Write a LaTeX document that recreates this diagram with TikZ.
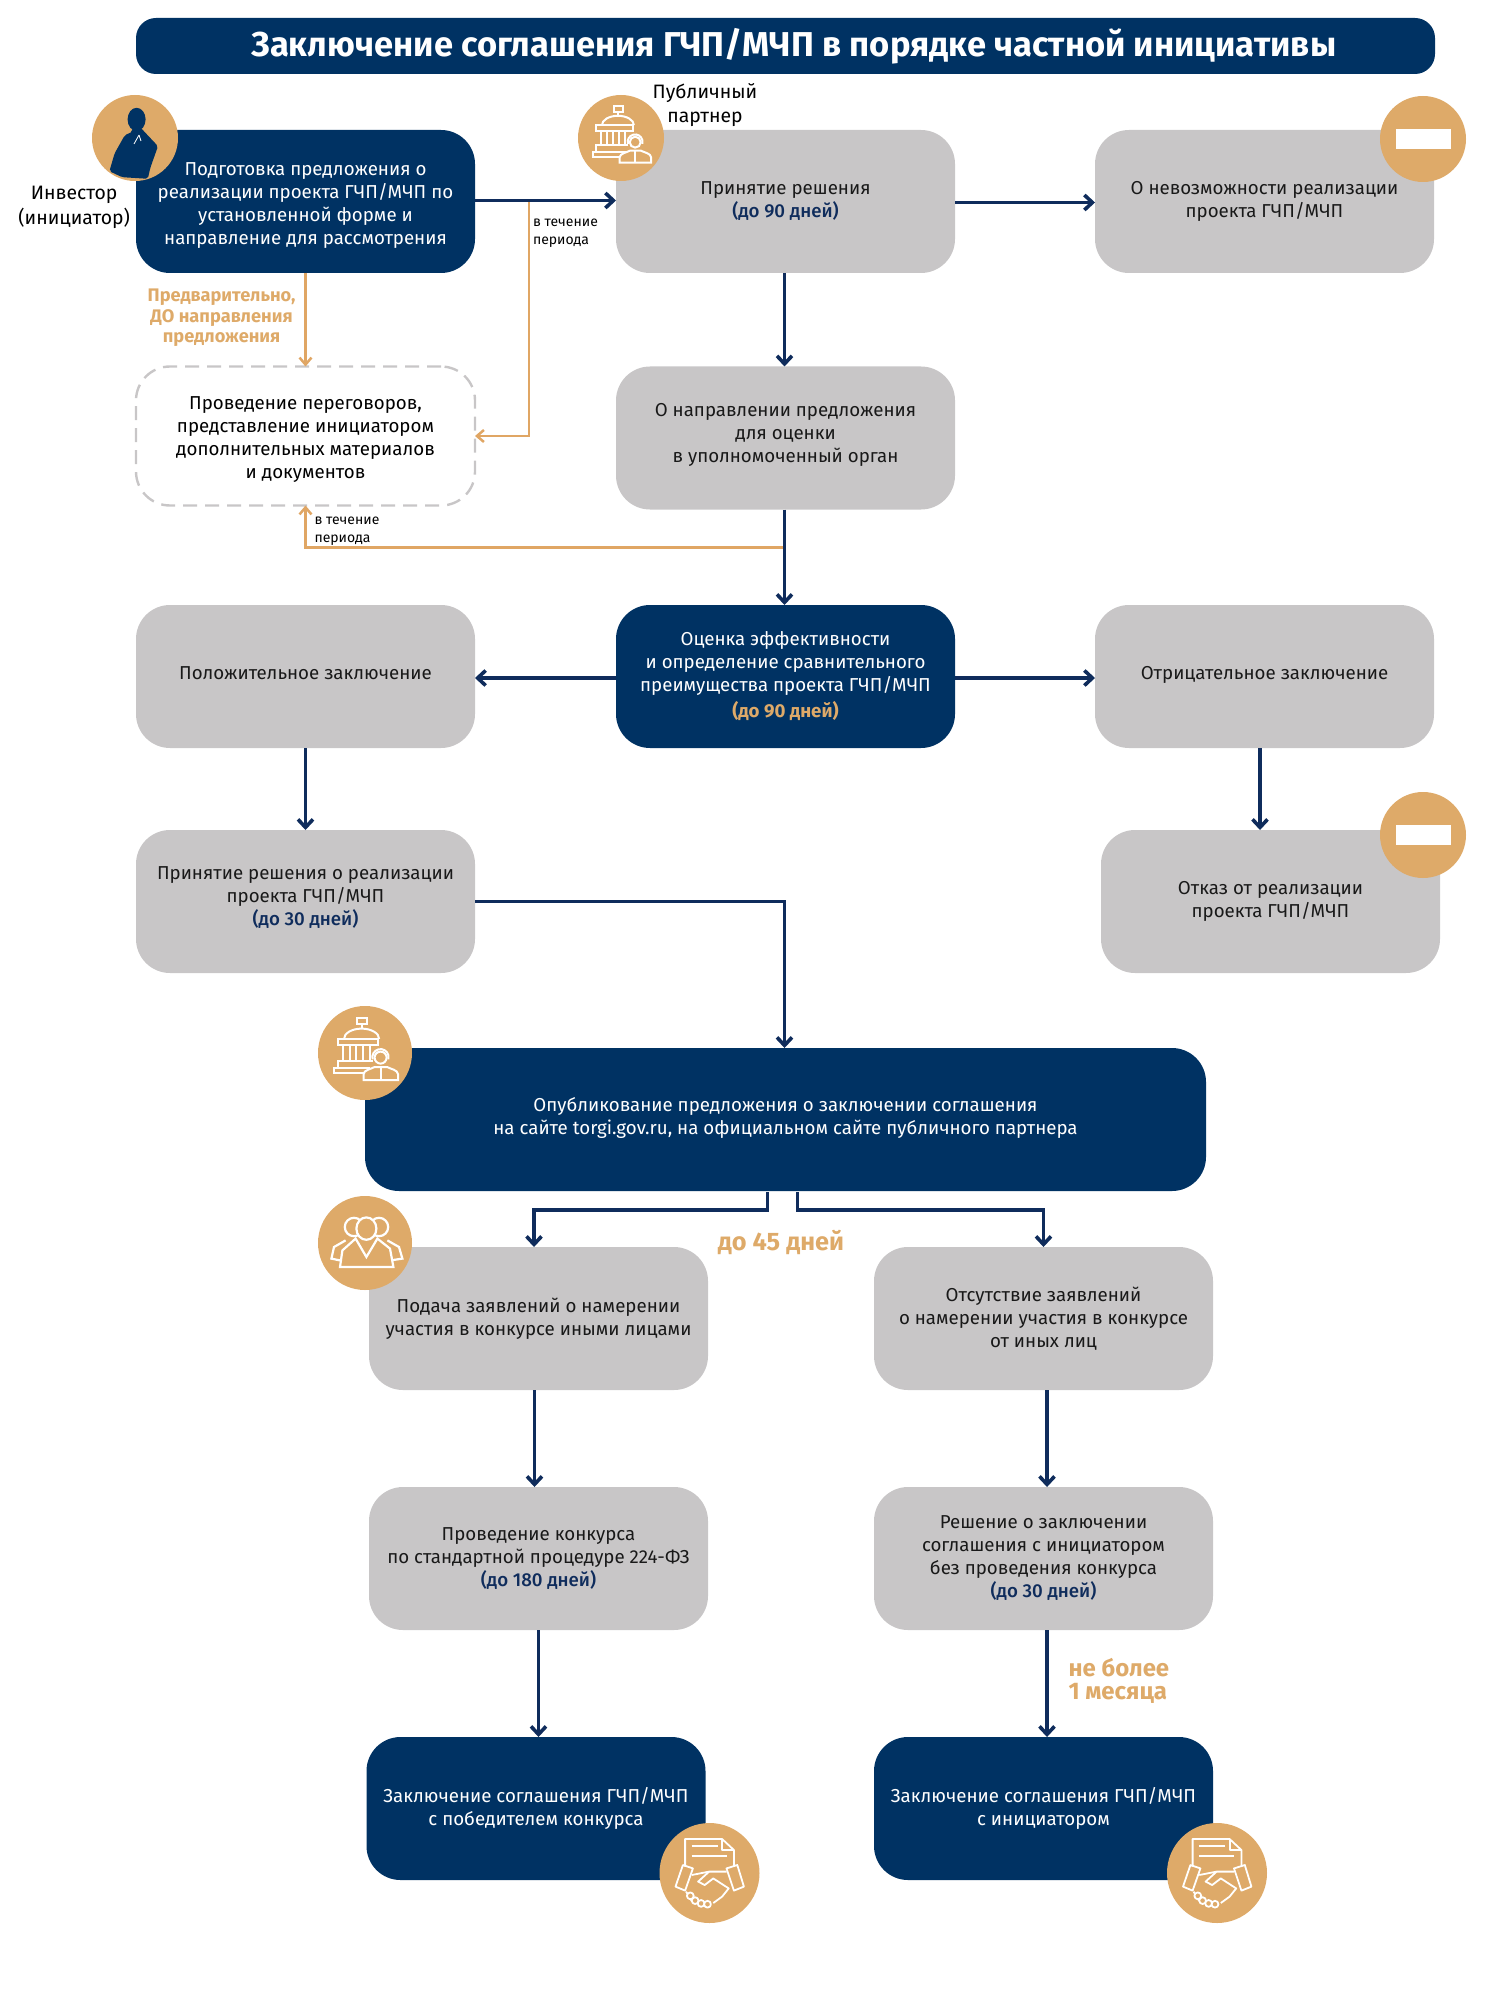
\documentclass[tikz,border=0pt]{standalone}
\usepackage{fontspec}
\setmainfont{Fira Sans}
\newfontfamily\mediumfont{Fira Sans Medium}
\usetikzlibrary{arrows.meta,positioning}
\definecolor{deepNavy}{HTML}{003263}
\definecolor{arrowNavy}{HTML}{0F2C5C}
\definecolor{sandTan}{HTML}{DEAA69}
\definecolor{softGrey}{HTML}{C8C6C7}
\definecolor{lineTan}{HTML}{E0A664}
\tikzset{
  pics/minusicon/.style={code={\fill[white] (-13.75,-5) rectangle (13.75,5);}},
  pics/buildingicon/.style={code={
    \begin{scope}[draw=white,line width=1pt,fill=sandTan]
      \draw (-4,17.5) rectangle (1.2,14.3);
      \draw (-1.5,14.3)--(-1.5,12.3);
      \draw (-10.5,7) arc[start angle=180,end angle=0,x radius=8.8,y radius=5.2];
      \draw (-13.5,7) rectangle (6.5,4);
      \foreach \colx in {-11,-7.7,-4.3,-1,2.3} \draw (\colx,4)--(\colx,-3.5);
      \draw (-13.5,-7.7)--(-13.5,-3.8)--(4,-3.8);
      \draw (-15.6,-10.2) rectangle (2,-7.7);
      \draw[fill=sandTan] (-0.7,-13.5)--(-0.7,-10.5) .. controls (-0.5,-8.5) and (3,-8) .. (4.8,-7)
        --(11,-7) .. controls (13,-8) and (16.3,-8.5) .. (16.5,-10.5)--(16.5,-13.5)--cycle;
      \draw[fill=sandTan] (7.8,-2.3) circle[radius=3];
      \draw (3.8,-3.2) arc[start angle=195,end angle=-15,radius=4.1];
      \draw (7.8,-7)--(7.8,-13);
    \end{scope}}},
  pics/groupicon/.style={code={
    \begin{scope}[draw=white,line width=1.1pt,fill=sandTan]
      \draw (-5.5,8) circle[radius=4.6];
      \draw (7,8) circle[radius=4.6];
      \draw (-12.5,-8.7)--(-16.8,-7.8)--(-15.5,-2)--(-9.7,1.3);
      \draw (12.8,-8.7)--(18.7,-7.8)--(17,-2)--(11.2,1.3);
      \draw[fill=sandTan] (0.7,7.2) ellipse[x radius=5,y radius=5.6];
      \draw[fill=sandTan] (-12.5,-12)--(-11.3,-3.7)--(-4.7,2.2)--(0.7,-7)--(6.2,2.2)--(12.5,-2.8)--(14.2,-12)--cycle;
    \end{scope}}},
  pics/dealicon/.style={code={
    \begin{scope}[draw=white,line width=.9pt,line join=round,fill=sandTan]
      \draw (-12.2,3.2)--(-12.2,17)--(6.3,17)--(12.2,11.5)--(12.2,3.2);
      \draw (6.3,17)--(6.3,11.5)--(12.2,11.5);
      \draw (-8.9,13.7)--(4.1,13.7);
      \draw (-8.9,8.7)--(8.5,8.7);
      \draw (-13.3,4)--(-8.3,2.3)--(-12.2,-8.8)--(-17,-6.8)--cycle;
      \draw (8.5,2.3)--(13.9,4)--(17.2,-6.8)--(12.2,-8.8)--cycle;
      \draw (-8.9,-1)--(-0.2,0.7)--(8.5,0.7);
      \draw (-0.2,0.7)--(-5.7,-4.3)--(-2.4,-6)--(1.9,-2.7)--(9.6,-7.7)--(6.3,-11.8)--(1.9,-15);
      \draw (-11.7,-9.3)--(-8.9,-14);
      \foreach \knx/\kny in {-9.6/-11.4,-7.2/-13.8,-4.2/-15.2,-1/-15.6} \draw[fill=sandTan] (\knx,\kny) circle[radius=1.7];
    \end{scope}}},
  pics/investoricon/.style={code={
    \fill[deepNavy] (0.8,9.3) ellipse[x radius=4.5,y radius=5.8];
    \fill[deepNavy,rounded corners=1pt] (-5.1,1.4)--(-10.2,-7.7)--(-12.8,-16.6)--(-6.4,-19.6)--(6.4,-20.4)--(7.7,-14.8)--(11.5,-4.1)--(5.1,2.7)--(3,5)--(-1.5,5)--(-1.3,3.1)--cycle;
    \draw[white,line width=.4pt] (2,1.5)--(-0.5,-3) (2,1.5)--(3,-1.5);}}
}
\newcommand{\navyterm}[1]{{\color{arrowNavy}\mediumfont #1}}
\newcommand{\tanterm}[1]{{\color{sandTan}\bfseries #1}}

\begin{document}
\begin{tikzpicture}[x=1pt,y=1pt,node distance=28pt,every node/.style={outer sep=0pt}]
      \tikzstyle{base}=[rounded corners=17pt,minimum width=169.5pt,minimum height=71.5pt,
                        align=center,inner sep=0pt,font=\fontsize{9.35}{11.5}\selectfont]
      \tikzstyle{darkbox}=[base,fill=deepNavy,text=white]
      \tikzstyle{greybox}=[base,fill=softGrey,text=black!90]
      \tikzstyle{talkbox}=[base,draw=softGrey,line width=1.2pt,dash pattern=on 7pt off 4pt,minimum height=69.5pt]
      \tikzstyle{badge}=[circle,fill=sandTan,inner sep=0pt]
      \tikzstyle{tag}=[align=center,inner sep=0pt,font=\fontsize{9.7}{12.3}\selectfont]
      \tikzstyle{note}=[align=left,inner sep=0pt,font=\fontsize{7}{9}\selectfont]
      \tikzstyle{flow}=[arrowNavy,line width=1.8pt,-{Straight Barb[length=4pt,width=7.5pt]}]
      \tikzstyle{side}=[lineTan,line width=1.25pt,-{Straight Barb[length=3.5pt,width=6pt]}]
      \useasboundingbox (0,0) rectangle (753.5,-1000);

      \node[fill=deepNavy,text=white,rounded corners=10pt,minimum width=649.5pt,minimum height=28pt,
            inner sep=0pt,font=\fontsize{17.25}{18}\selectfont\bfseries] (title) at (392.75,-23)
            {\hspace*{8.3pt}Заключение соглашения ГЧП/МЧП в порядке частной инициативы};

      \node[darkbox,below right=28pt and 0pt of title.south west] (investor)
            {\null\\[-.7pt]Подготовка предложения о\\реализации проекта ГЧП/МЧП по\\установленной форме и\\направление для рассмотрения};
      \node[greybox,right=70.5pt of investor] (partner) {Принятие решения\\\navyterm{(до 90 дней)}};
      \node[greybox,right=70pt of partner] (impossible) {О невозможности реализации\\проекта ГЧП/МЧП};
      \node[talkbox,below=46.75pt of investor] (talks)
            {\null\\[-2pt]Проведение переговоров,\\представление инициатором\\дополнительных материалов\\и документов};
      \node[greybox,below=46.75pt of partner] (forward) {О направлении предложения\\для оценки\\в уполномоченный орган\\[-6pt]};
      \node[darkbox,below=47.75pt of forward] (assess)
            {Оценка эффективности\\и определение сравнительного\\преимущества проекта ГЧП/МЧП\\[1.5pt]\tanterm{(до 90 дней)}};
      \node[greybox,left=70.5pt of assess] (positive) {Положительное заключение\\[-8pt]};
      \node[greybox,right=70pt of assess] (negative) {Отрицательное заключение\\[-8pt]};
      \node[greybox,below=41pt of positive] (decide)
            {Принятие решения о реализации\\проекта ГЧП/МЧП\\\navyterm{(до 30 дней)}\\[-6pt]};
      \node[greybox,below=41pt of negative,xshift=3pt] (refuse) {Отказ от реализации\\проекта ГЧП/МЧП};
      \node[darkbox,below=150pt of assess,minimum width=420.5pt] (publish)
            {Опубликование предложения о заключении соглашения\\на сайте torgi.gov.ru, на официальном сайте публичного партнера\\[-8pt]};
      \node[greybox,below right=28pt and 2pt of publish.south west] (apply)
            {Подача заявлений о намерении\\участия в конкурсе иными лицами};
      \node[greybox,right=83pt of apply] (absent) {Отсутствие заявлений\\о намерении участия в конкурсе\\от иных лиц};
      \node[greybox,below=48.5pt of apply] (contest)
            {Проведение конкурса\\по стандартной процедуре 224-ФЗ\\\navyterm{(до 180 дней)}};
      \node[greybox,below=48.5pt of absent] (decision)
            {Решение о заключении\\соглашения с инициатором\\без проведения конкурса\\\navyterm{(до 30 дней)}};
      \node[darkbox,below=53.5pt of contest,xshift=-1.25pt] (winner) {Заключение соглашения ГЧП/МЧП\\с победителем конкурса};
      \node[darkbox,below=53.5pt of decision] (initiator) {Заключение соглашения ГЧП/МЧП\\с инициатором};

      % tan connectors
      \coordinate[right=27pt of investor.east,yshift=.5pt] (tapTop);
      \coordinate[below=19pt of forward.south,xshift=-.5pt] (tapMid);
      \draw[side] (investor)--(talks);
      \draw[side] (tapTop) |- (talks.east);
      \draw[side] (tapMid) -| (talks.south);

      % navy connectors
      \draw[flow] ([yshift=.5pt]investor.east)--([yshift=.5pt]partner.west);
      \draw[flow] ([yshift=-.5pt]partner.east)--([yshift=-.5pt]impossible.west);
      \draw[flow] ([xshift=-.5pt]partner.south)--([xshift=-.5pt]forward.north);
      \draw[flow] ([xshift=-.5pt]forward.south)--([xshift=-.5pt]assess.north);
      \draw[flow] ([yshift=-.75pt]assess.west)--([yshift=-.75pt]positive.east);
      \draw[flow] ([yshift=-.75pt]assess.east)--([yshift=-.75pt]negative.west);
      \draw[flow] (positive)--(decide);
      \draw[flow] ([xshift=-2.25pt]negative.south)--([xshift=-5.25pt]refuse.north);
      \draw[flow] (decide) -| ([xshift=-.5pt]publish.north);
      \coordinate[below=.5pt of publish.south,xshift=-9pt] (leftOut);
      \coordinate[below=.5pt of publish.south,xshift=6pt] (rightOut);
      \draw[flow] (leftOut)--++(0,-9) -| ([xshift=-2.25pt]apply.north);
      \draw[flow] (rightOut)--++(0,-9) -| (absent.north);
      \draw[flow] ([xshift=-2pt]apply.south)--([xshift=-2pt]contest.north);
      \draw[flow] ([xshift=1.75pt]absent.south)--([xshift=1.75pt]decision.north);
      \draw[flow] (contest)--([xshift=1.25pt]winner.north);
      \draw[flow] ([xshift=1.75pt]decision.south)--([xshift=1.75pt]initiator.north);

      % labels
      \node[tag,left=3pt of investor,yshift=-3pt] (investorlabel) {Инвестор\\(инициатор)};
      \node[tag,above=1.5pt of partner.north west,xshift=44.5pt] (partnerlabel) {Публичный\\партнер};
      \node[note,below right=9pt and 2pt of tapTop] (termtop) {в течение\\периода};
      \node[note,below right=5.5pt and 4.5pt of talks.south] (termlow) {в течение\\периода};
      \node[align=center,inner sep=0pt,text=sandTan,font=\fontsize{9.1}{10.2}\selectfont\bfseries,
            below left=8pt and 5pt of investor.south] (beforelabel) {Предварительно,\\ДО направления\\предложения};
      \node[inner sep=0pt,text=sandTan,font=\fontsize{12.65}{14}\selectfont\bfseries,
            below=19.5pt of publish.south,xshift=-2.25pt] (dayslabel) {до 45 дней};
      \node[align=left,inner sep=0pt,text=sandTan,font=\fontsize{12}{11.5}\selectfont\bfseries,
            below right=14pt and 12.5pt of decision.south] (monthlabel) {не более\\1 месяца};

      % round badges
      \node[badge,minimum size=43pt] (investorbadge) at ([xshift=-.5pt,yshift=-4pt]investor.north west) {};
      \node[badge,minimum size=43pt] (partnerbadge) at ([xshift=2.5pt,yshift=-4pt]partner.north west) {};
      \node[badge,minimum size=43pt] (impossiblebadge) at ([xshift=-5.5pt,yshift=-4.5pt]impossible.north east) {};
      \node[badge,minimum size=43pt] (refusebadge) at ([xshift=-8.5pt,yshift=-2.5pt]refuse.north east) {};
      \node[badge,minimum size=47pt] (publishbadge) at ([yshift=-2.5pt]publish.north west) {};
      \node[badge,minimum size=47pt] (applybadge) at ([xshift=-2pt,yshift=2pt]apply.north west) {};
      \node[badge,minimum size=50pt] (winnerbadge) at ([xshift=2pt,yshift=3.5pt]winner.south east) {};
      \node[badge,minimum size=50pt] (initiatorbadge) at ([xshift=2pt,yshift=3.5pt]initiator.south east) {};

      \pic at (investorbadge) {investoricon};
      \pic[scale=.91] at (partnerbadge) {buildingicon};
      \pic at (impossiblebadge) {minusicon};
      \pic at (refusebadge) {minusicon};
      \pic at (publishbadge) {buildingicon};
      \pic at (applybadge) {groupicon};
      \pic at (winnerbadge) {dealicon};
      \pic at (initiatorbadge) {dealicon};
    \end{tikzpicture}
\end{document}
